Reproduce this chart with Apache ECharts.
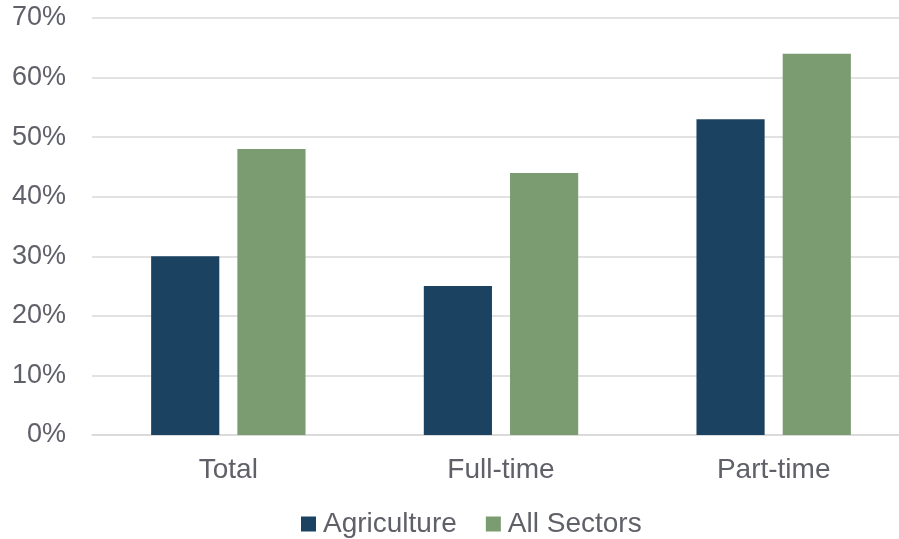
<!DOCTYPE html>
<html><head><meta charset="utf-8">
<script src="https://cdn.jsdelivr.net/npm/echarts@6/dist/echarts.min.js"></script>
<style>html,body{margin:0;padding:0;background:#fff}#c{width:899px;height:539px}</style>
</head><body><div id="c"></div>
<script>
const categories = ["Total", "Full-time", "Part-time"];
const agriculture = [30, 25, 53];
const allSectors = [48, 44, 64];
const yTicks = [0, 10, 20, 30, 40, 50, 60, 70];

const chart = echarts.init(document.getElementById('c'));
const txt = '#5f6068';
const font = 'Liberation Sans, Arial, sans-serif';
chart.setOption({
  animation: false,
  grid: {left: 92, width: 818, top: 18, bottom: 104, containLabel: false, outerBoundsMode: 'none'},
  legend: {
    bottom: -4, left: 296, itemWidth: 15, itemHeight: 15, itemGap: 29,
    icon: 'rect',
    textStyle: {color: txt, fontSize: 28, fontFamily: font, padding: [0, 0, 0, 2]},
    data: ['Agriculture', 'All Sectors']
  },
  xAxis: {
    type: 'category', data: categories,
    axisLine: {lineStyle: {color: '#d9d9d9', width: 1.5}},
    axisTick: {show: false},
    axisLabel: {color: txt, fontSize: 28, fontFamily: font, margin: 21}
  },
  yAxis: {
    type: 'value', min: yTicks[0], max: yTicks[yTicks.length - 1], interval: 10,
    axisLine: {show: false}, axisTick: {show: false},
    splitLine: {lineStyle: {color: '#d9d9d9', width: 1.5}},
    axisLabel: {color: txt, fontSize: 27, fontFamily: font, margin: 26, formatter: v => v + '%'}
  },
  series: [
    {name: 'Agriculture', type: 'bar', data: agriculture, barWidth: '25%', barGap: '26.5%',
     itemStyle: {color: '#1b4361'}},
    {name: 'All Sectors', type: 'bar', data: allSectors, barWidth: '25%',
     itemStyle: {color: '#7b9b70'}}
  ]
});
</script></body></html>
